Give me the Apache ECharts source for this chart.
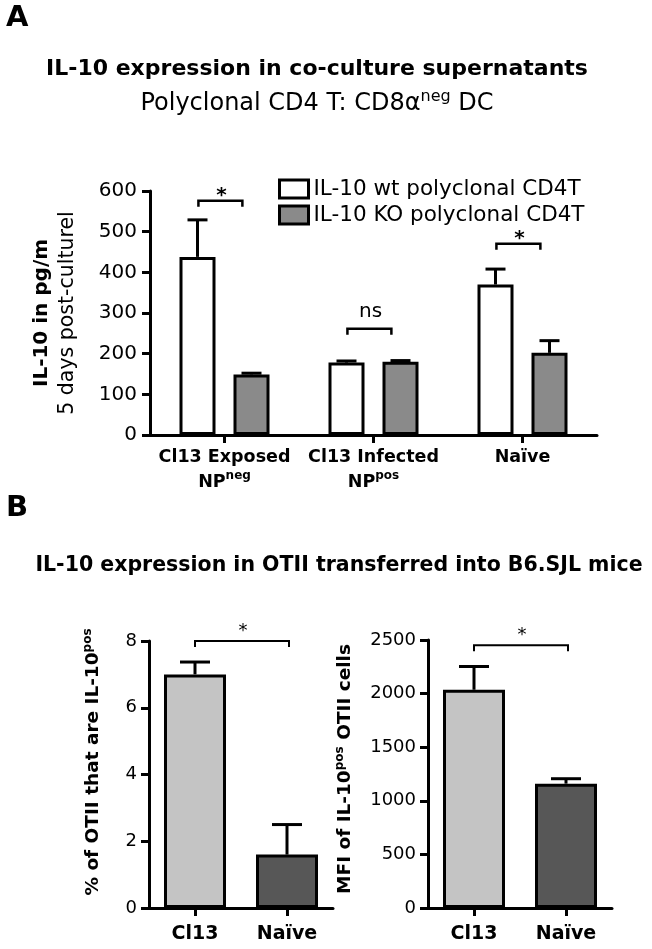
<!DOCTYPE html>
<html><head><meta charset="utf-8">
<script src="https://cdn.jsdelivr.net/npm/echarts@6/dist/echarts.min.js"></script>
<style>html,body{margin:0;padding:0;background:#fff}#c{width:652px;height:949px}</style>
</head><body><div id="c"></div>
<script>
// ---------- data (panel A) ----------
const categoriesA = ['Cl13 Exposed', 'Cl13 Infected', 'Naïve'];
const npSuperA = ['neg', 'pos', ''];
const seriesNamesA = ['IL-10 wt polyclonal CD4T', 'IL-10 KO polyclonal CD4T'];
const wtMean = [438, 178, 370];
const wtSem = [91, 4, 38];
const koMean = [149, 180, 202];
const koSem = [3, 3, 30];
const sigLabelA = ['*', 'ns', '*'];
const sigLevelA = [576, 261, 470];
const yTicksA = [0, 100, 200, 300, 400, 500, 600];

// ---------- data (panel B) ----------
const categoriesB = ['Cl13', 'Naïve'];
const pctMean = [7.0, 1.6];
const pctSem = [0.37, 0.9];
const mfiMean = [2036, 1160];
const mfiSem = [217, 46];
const sigLabelB = '*';
const sigLevelPct = 8.0;
const sigLevelMfi = 2450;
const yTicksPct = [0, 2, 4, 6, 8];
const yTicksMfi = [0, 500, 1000, 1500, 2000, 2500];

// ---------- styles ----------
const FONT = 'DejaVu Sans';
const BLACK = '#000';
const BW_A = 36, GAP_A = 0.5;
const OFF_A = BW_A * (1 + GAP_A) / 2;
const BW_B = 62;
const colorsB = ['#c4c4c4', '#575757'];

const chart = echarts.init(document.getElementById('c'), null, {renderer: 'canvas'});

function errRender(offsetPx, capW) {
  return function (params, api) {
    const x = api.value(0), m = api.value(1), s = api.value(2);
    const p0 = api.coord([x, m]);
    const p1 = api.coord([x, m + s]);
    const cx = p0[0] + offsetPx;
    return {type: 'group', children: [
      {type: 'line', shape: {x1: cx, y1: p0[1], x2: cx, y2: p1[1]}, style: {stroke: BLACK, lineWidth: 3}},
      {type: 'line', shape: {x1: cx - capW / 2, y1: p1[1], x2: cx + capW / 2, y2: p1[1]}, style: {stroke: BLACK, lineWidth: 3}}
    ]};
  };
}

function axisCommon() {
  return {
    axisLine: {show: true, lineStyle: {color: BLACK, width: 3}},
    axisTick: {show: true, length: 8, lineStyle: {color: BLACK, width: 3}},
    splitLine: {show: false}
  };
}
const plainNum = v => String(v);

const option = {
  animation: false,
  backgroundColor: '#fff',
  grid: [
    {left: 150, top: 191, width: 447, height: 244},
    {left: 149, top: 641, width: 184, height: 267},
    {left: 428, top: 640, width: 184, height: 268}
  ],
  legend: {
    orient: 'vertical', left: 273, top: 171, itemWidth: 29, itemHeight: 18, itemGap: 0,
    icon: 'rect', selectedMode: false,
    textStyle: {fontFamily: FONT, fontSize: 21.5, color: BLACK, lineHeight: 26},
    itemStyle: {borderColor: BLACK, borderWidth: 3},
    data: seriesNamesA
  },
  xAxis: [
    Object.assign(axisCommon(), {
      type: 'category', gridIndex: 0, data: categoriesA,
      axisTick: {show: true, alignWithLabel: true, length: 8, lineStyle: {color: BLACK, width: 3}},
      axisLabel: {
        margin: 10, interval: 0,
        formatter: function (v, i) {
          return '{b|' + v + '}\n' + (npSuperA[i] ? '{b|NP}{sup|' + npSuperA[i] + '}' : '{b| }');
        },
        rich: {
          b: {fontFamily: FONT, fontWeight: 'bold', fontSize: 17.5, lineHeight: 25, color: BLACK},
          sup: {fontFamily: FONT, fontWeight: 'bold', fontSize: 12, lineHeight: 12, verticalAlign: 'top', color: BLACK}
        }
      }
    }),
    Object.assign(axisCommon(), {
      type: 'category', gridIndex: 1, data: categoriesB,
      axisTick: {show: true, alignWithLabel: true, length: 8, lineStyle: {color: BLACK, width: 3}},
      axisLabel: {margin: 17, interval: 0, color: BLACK, fontFamily: FONT, fontWeight: 'bold', fontSize: 19}
    }),
    Object.assign(axisCommon(), {
      type: 'category', gridIndex: 2, data: categoriesB,
      axisTick: {show: true, alignWithLabel: true, length: 8, lineStyle: {color: BLACK, width: 3}},
      axisLabel: {margin: 17, interval: 0, color: BLACK, fontFamily: FONT, fontWeight: 'bold', fontSize: 19}
    })
  ],
  yAxis: [
    Object.assign(axisCommon(), {
      type: 'value', gridIndex: 0, min: yTicksA[0], max: yTicksA[yTicksA.length - 1],
      interval: yTicksA[1] - yTicksA[0],
      axisLabel: {color: BLACK, fontFamily: FONT, fontSize: 20, margin: 13, formatter: plainNum},
      name: '{b|IL-10 in pg/m}\n{r|5 days post-culturel}',
      nameLocation: 'middle', nameRotate: 90, nameGap: 69,
      nameTextStyle: {
        rich: {
          b: {fontFamily: FONT, fontWeight: 'bold', fontSize: 20, lineHeight: 26, color: BLACK},
          r: {fontFamily: FONT, fontSize: 20.5, lineHeight: 26, color: BLACK}
        }
      }
    }),
    Object.assign(axisCommon(), {
      type: 'value', gridIndex: 1, min: yTicksPct[0], max: yTicksPct[yTicksPct.length - 1],
      interval: yTicksPct[1] - yTicksPct[0],
      axisLabel: {color: BLACK, fontFamily: FONT, fontSize: 18, margin: 12, formatter: plainNum},
      name: '{b|% of OTII that are IL-10}{sup|pos}',
      nameLocation: 'middle', nameRotate: 90, nameGap: 45,
      nameTextStyle: {
        padding: [0, 0, 0, 25],
        rich: {
          b: {fontFamily: FONT, fontWeight: 'bold', fontSize: 18.5, lineHeight: 22, color: BLACK},
          sup: {fontFamily: FONT, fontWeight: 'bold', fontSize: 12, lineHeight: 12, verticalAlign: 'top', color: BLACK}
        }
      }
    }),
    Object.assign(axisCommon(), {
      type: 'value', gridIndex: 2, min: yTicksMfi[0], max: yTicksMfi[yTicksMfi.length - 1],
      interval: yTicksMfi[1] - yTicksMfi[0],
      axisLabel: {color: BLACK, fontFamily: FONT, fontSize: 18, margin: 12, formatter: plainNum},
      name: '{b|MFI of IL-10}{sup|pos}{b| OTII cells}',
      nameLocation: 'middle', nameRotate: 90, nameGap: 72,
      nameTextStyle: {
        padding: [0, 0, 0, 10],
        rich: {
          b: {fontFamily: FONT, fontWeight: 'bold', fontSize: 18.5, lineHeight: 22, color: BLACK},
          sup: {fontFamily: FONT, fontWeight: 'bold', fontSize: 12, lineHeight: 12, verticalAlign: 'top', color: BLACK}
        }
      }
    })
  ],
  series: [
    {
      name: seriesNamesA[0], type: 'bar', xAxisIndex: 0, yAxisIndex: 0,
      barWidth: BW_A, barGap: (GAP_A * 100) + '%', data: wtMean,
      itemStyle: {color: '#ffffff', borderColor: BLACK, borderWidth: 3}
    },
    {
      name: seriesNamesA[1], type: 'bar', xAxisIndex: 0, yAxisIndex: 0,
      barWidth: BW_A, barGap: (GAP_A * 100) + '%', data: koMean,
      itemStyle: {color: '#8a8a8a', borderColor: BLACK, borderWidth: 3}
    },
    {
      type: 'custom', xAxisIndex: 0, yAxisIndex: 0, clip: false, silent: true, z: 1,
      renderItem: errRender(-OFF_A, 20),
      data: wtMean.map((m, i) => [i, m, wtSem[i]])
    },
    {
      type: 'custom', xAxisIndex: 0, yAxisIndex: 0, clip: false, silent: true, z: 1,
      renderItem: errRender(OFF_A, 20),
      data: koMean.map((m, i) => [i, m, koSem[i]])
    },
    {
      type: 'custom', xAxisIndex: 0, yAxisIndex: 0, clip: false, silent: true,
      renderItem: function (params, api) {
        const p = api.coord([api.value(0), api.value(1)]);
        const band = api.size([1, 0])[0];
        const x1 = p[0] - band * 0.175, x2 = p[0] + band * 0.12, y = p[1];
        const lab = sigLabelA[params.dataIndex];
        const isStar = lab === '*';
        return {type: 'group', children: [
          {type: 'polyline', shape: {points: [[x1, y + 6], [x1, y], [x2, y], [x2, y + 6]]},
            style: {stroke: BLACK, lineWidth: 2.5, fill: null}},
          {type: 'text', style: {text: lab, x: p[0] - band * 0.02, y: isStar ? y - 5 : y - 17,
            textAlign: 'center', textVerticalAlign: 'middle',
            font: (isStar ? 'bold 20px ' : '20px ') + FONT, fill: BLACK}}
        ]};
      },
      data: sigLevelA.map((v, i) => [i, v])
    },
    {
      type: 'bar', xAxisIndex: 1, yAxisIndex: 1, barWidth: BW_B,
      data: pctMean.map((v, i) => ({value: v, itemStyle: {color: colorsB[i]}})),
      itemStyle: {borderColor: BLACK, borderWidth: 3}
    },
    {
      type: 'custom', xAxisIndex: 1, yAxisIndex: 1, clip: false, silent: true, z: 1,
      renderItem: errRender(0, 30),
      data: pctMean.map((m, i) => [i, m, pctSem[i]])
    },
    {
      type: 'bar', xAxisIndex: 2, yAxisIndex: 2, barWidth: BW_B,
      data: mfiMean.map((v, i) => ({value: v, itemStyle: {color: colorsB[i]}})),
      itemStyle: {borderColor: BLACK, borderWidth: 3}
    },
    {
      type: 'custom', xAxisIndex: 2, yAxisIndex: 2, clip: false, silent: true, z: 1,
      renderItem: errRender(0, 30),
      data: mfiMean.map((m, i) => [i, m, mfiSem[i]])
    },
    {
      type: 'custom', xAxisIndex: 1, yAxisIndex: 1, clip: false, silent: true,
      renderItem: bracketB,
      data: [[0, sigLevelPct]]
    },
    {
      type: 'custom', xAxisIndex: 2, yAxisIndex: 2, clip: false, silent: true,
      renderItem: bracketB,
      data: [[0, sigLevelMfi]]
    }
  ],
  graphic: [
    {type: 'text', left: 6, top: 4, style: {text: 'A', font: 'bold 29px ' + FONT, fill: BLACK}},
    {type: 'text', left: 6, top: 494, style: {text: 'B', font: 'bold 29px ' + FONT, fill: BLACK}},
    {type: 'text', x: 317, y: 69, style: {text: 'IL-10 expression in co-culture supernatants',
      textAlign: 'center', textVerticalAlign: 'middle', font: 'bold 22px ' + FONT, fill: BLACK}},
    {type: 'text', x: 317, y: 104, style: {
      text: '{n|Polyclonal CD4 T: CD8α}{sup|neg}{n| DC}',
      textAlign: 'center', textVerticalAlign: 'middle',
      rich: {
        n: {fontFamily: FONT, fontSize: 24, lineHeight: 30, fill: BLACK},
        sup: {fontFamily: FONT, fontSize: 16, lineHeight: 14, verticalAlign: 'top', fill: BLACK}
      }}},
    {type: 'text', x: 339, y: 566, style: {text: 'IL-10 expression in OTII transferred into B6.SJL mice',
      textAlign: 'center', textVerticalAlign: 'middle', font: 'bold 20.5px ' + FONT, fill: BLACK}}
  ]
};

function bracketB(params, api) {
  const p0 = api.coord([0, api.value(1)]);
  const p1 = api.coord([1, api.value(1)]);
  const y = p0[1];
  return {type: 'group', children: [
    {type: 'polyline', shape: {points: [[p0[0], y + 6], [p0[0], y], [p1[0] + 2, y], [p1[0] + 2, y + 6]]},
      style: {stroke: BLACK, lineWidth: 2, fill: null}},
    {type: 'text', style: {text: sigLabelB, x: (p0[0] + p1[0]) / 2 + 2, y: y - 10,
      textAlign: 'center', textVerticalAlign: 'middle', font: '18px ' + FONT, fill: BLACK}}
  ]};
}

chart.setOption(option);
</script>
</body></html>
